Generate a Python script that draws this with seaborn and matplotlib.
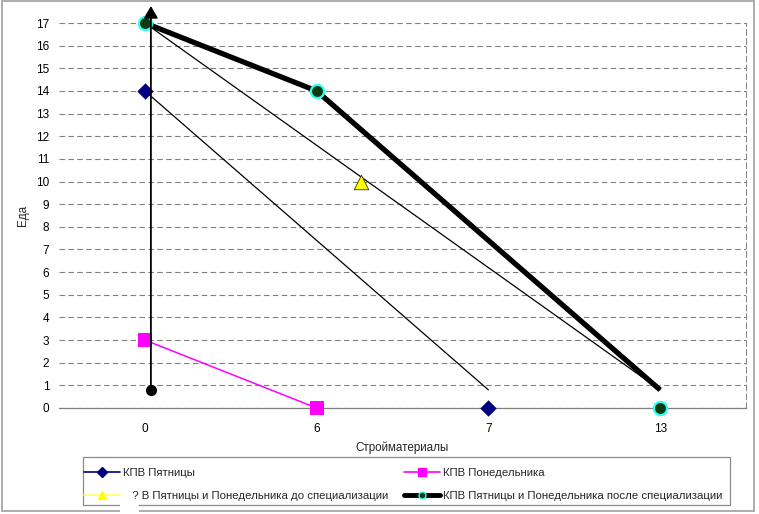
import numpy as np
import pandas as pd
import seaborn as sns
import matplotlib.pyplot as plt
from matplotlib.lines import Line2D
from matplotlib.patches import Rectangle

# категории оси X (Excel-ось категорий)
categories = ["0", "6", "7", "13"]
friday = [14, np.nan, 0, np.nan]
monday = [3, 0, np.nan, np.nan]
after_spec = [17, 14, np.nan, 0]
before_x = [1.26]
before_y = [10]

# нарисованные от руки линии поверх диаграммы
thick_x = [0, 1, 3]
thick_y = [17, 14, 0.8]
thin1_x = [0, 3]
thin1_y = [17, 0.8]
thin2_x = [0, 2]
thin2_y = [14, 0.8]
arrow_x = 0.035
arrow_y = [0.8, 17.75]

labels = ["КПВ Пятницы", "КПВ Понедельника",
          "   ? В Пятницы и Понедельника до специализации",
          "КПВ Пятницы и Понедельника после специализации"]

pos = np.arange(len(categories))
df = pd.DataFrame({"pos": pos, "friday": friday, "monday": monday, "after": after_spec})

sns.set_theme(style="white")
plt.rcParams['font.family'] = ['Liberation Sans', 'DejaVu Sans']

W, H = 759, 514
fig = plt.figure(figsize=(W / 100, H / 100), dpi=100)
ax = fig.add_axes([59 / W, 1 - 408 / H, 687 / W, 385 / H])

# hand drawn lines
ax.plot(thin1_x, thin1_y, color="black", lw=0.9, zorder=3)
ax.plot(thin2_x, thin2_y, color="black", lw=0.9, zorder=3)
ax.plot(thick_x, thick_y, color="black", lw=3.8, zorder=3, solid_capstyle="butt")

# series
mon = df.dropna(subset=["monday"])
sns.lineplot(data=mon, x="pos", y="monday", color="#FF00FF", lw=1.1, ax=ax, zorder=4)
sns.scatterplot(data=mon, x="pos", y="monday", marker="s", s=100, color="#FF00FF",
                edgecolor="#FF00FF", linewidth=0, ax=ax, zorder=5, clip_on=False)
fri = df.dropna(subset=["friday"])
sns.scatterplot(data=fri, x="pos", y="friday", marker="D", s=70, color="#000080",
                edgecolor="#000080", linewidth=0, ax=ax, zorder=5, clip_on=False)
sns.scatterplot(x=before_x, y=before_y, marker="^", s=110, color="#FFFF00",
                edgecolor="#333300", linewidth=0.6, ax=ax, zorder=5, clip_on=False)
aft = df.dropna(subset=["after"])
sns.scatterplot(data=aft, x="pos", y="after", marker="o", s=90, color="#0A3A10",
                edgecolor="#33FFEE", linewidth=1.6, ax=ax, zorder=6, clip_on=False)

# vertical arrow
ax.annotate("", xy=(arrow_x, arrow_y[1]), xytext=(arrow_x, arrow_y[0]),
            arrowprops=dict(arrowstyle="-|>,head_length=0.6,head_width=0.35",
                            color="black", lw=1.3, shrinkA=0, shrinkB=0),
            annotation_clip=False, zorder=7)
ax.plot([arrow_x], [arrow_y[0]], "o", color="black", ms=7, zorder=7, clip_on=False)

ax.set_xlim(-0.5, 3.5)
ax.set_ylim(0, 17)
ax.set_xticks(pos)
ax.set_xticklabels(categories)
ax.set_xticks(np.arange(-0.5, 3.6, 1), minor=True)
ax.set_yticks(range(0, 18))
ax.tick_params(axis="x", which="major", length=0, pad=10.5, labelsize=8.5, colors="black")
ax.tick_params(axis="x", which="minor", length=4, direction="in", color="#808080", width=0.8)
ax.tick_params(axis="y", length=0, pad=7, labelsize=8.5, colors="black")
ax.set_xlabel("Стройматериалы", fontsize=8.4, labelpad=5)
ax.set_ylabel("Еда", fontsize=8.4, labelpad=5)

ax.yaxis.grid(True, linestyle=(0, (5, 3)), color="#808080", lw=0.8)
ax.set_axisbelow(True)
for s in ["left", "top"]:
    ax.spines[s].set_visible(False)
ax.spines["bottom"].set_color("#808080")
ax.spines["bottom"].set_linewidth(0.9)
ax.spines["right"].set_color("#8a8a8a")
ax.spines["right"].set_linestyle((0, (5, 3)))
ax.spines["right"].set_linewidth(0.8)

# legend
handles = [
    Line2D([], [], color="#000080", lw=1.2, marker="D", ms=5, mec="#000080"),
    Line2D([], [], color="#FF00FF", lw=1.2, marker="s", ms=6, mec="#FF00FF"),
    Line2D([], [], color="#FFFF66", lw=1.2, marker="^", ms=6, mfc="#FFFF00", mec="#FFFF00"),
    Line2D([], [], color="black", lw=3.5, marker="o", ms=5, mfc="#0A3A10", mec="#33FFEE", mew=1),
]
order = [0, 2, 1, 3]
fig.legend([handles[i] for i in order], [labels[i] for i in order], ncol=2,
           loc="upper left", mode="expand", frameon=False,
           bbox_to_anchor=(84 / W, 1 - 473 / H, (722 - 84) / W, 0.01),
           borderaxespad=0, borderpad=0, fontsize=8.2, handlelength=3.2,
           handletextpad=0.2, labelspacing=1.15)
fig.patches.append(Rectangle((83 / W, 1 - 505 / H), 647 / W, 48 / H, transform=fig.transFigure,
                             fill=False, edgecolor="#8a8a8a", lw=0.9, zorder=5))
# chart area border
fig.patches.append(Rectangle((2 / W, 1 - 511 / H), 752 / W, 510 / H, transform=fig.transFigure,
                             fill=False, edgecolor="#a0a0a0", lw=1.2, zorder=5))
# white patch breaking the borders
fig.patches.append(Rectangle((120 / W, 0), 19 / W, 12 / H, transform=fig.transFigure,
                             facecolor="white", edgecolor="none", zorder=10))

fig.savefig("out.png", dpi=100)
